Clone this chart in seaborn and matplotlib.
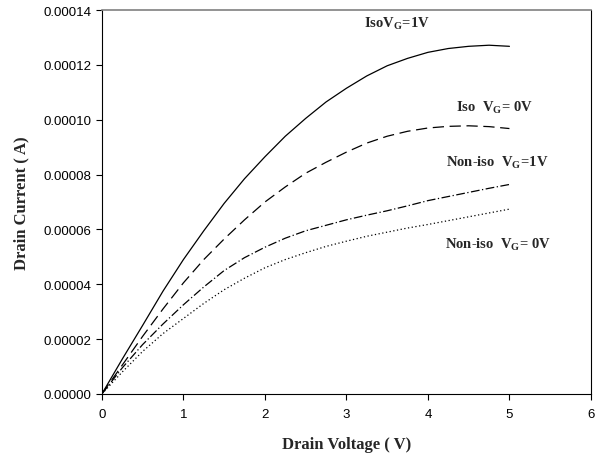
import numpy as np
import pandas as pd
import seaborn as sns
import matplotlib
matplotlib.use('Agg')
import matplotlib.pyplot as plt
from matplotlib.ticker import FormatStrFormatter

# drain voltage (V) and drain current (A)
vd = [0, 0.25, 0.5, 0.75, 1, 1.25, 1.5, 1.75, 2, 2.25, 2.5,
      2.75, 3, 3.25, 3.5, 3.75, 4, 4.25, 4.5, 4.75, 5]
iso_vg1 = [0, 1.27e-5, 2.5e-5, 3.75e-5, 4.9e-5, 5.95e-5, 6.95e-5, 7.85e-5, 8.65e-5, 9.4e-5, 10.05e-5,
           10.65e-5, 11.15e-5, 11.6e-5, 11.97e-5, 12.24e-5, 12.46e-5, 12.6e-5, 12.68e-5, 12.72e-5, 12.68e-5]
iso_vg0 = [0, 1.05e-5, 2.1e-5, 3.1e-5, 4.05e-5, 4.9e-5, 5.65e-5, 6.35e-5, 7.0e-5, 7.55e-5, 8.05e-5,
           8.45e-5, 8.82e-5, 9.15e-5, 9.4e-5, 9.58e-5, 9.7e-5, 9.76e-5, 9.78e-5, 9.75e-5, 9.68e-5]
noniso_vg1 = [0, 0.95e-5, 1.8e-5, 2.55e-5, 3.25e-5, 3.9e-5, 4.5e-5, 4.97e-5, 5.35e-5, 5.68e-5, 5.95e-5,
              6.15e-5, 6.35e-5, 6.52e-5, 6.68e-5, 6.86e-5, 7.05e-5, 7.2e-5, 7.35e-5, 7.5e-5, 7.64e-5]
noniso_vg0 = [0, 0.8e-5, 1.55e-5, 2.2e-5, 2.75e-5, 3.3e-5, 3.8e-5, 4.22e-5, 4.6e-5, 4.9e-5, 5.15e-5,
              5.38e-5, 5.57e-5, 5.75e-5, 5.9e-5, 6.05e-5, 6.18e-5, 6.32e-5, 6.46e-5, 6.6e-5, 6.74e-5]

sns.set_style('white')
plt.rcParams['font.family'] = ['Liberation Sans', 'DejaVu Sans']
plt.rcParams['mathtext.fontset'] = 'custom'
plt.rcParams['mathtext.bf'] = 'Liberation Serif:bold'
plt.rcParams['mathtext.rm'] = 'Liberation Serif:bold'

df = pd.DataFrame({'vd': vd, 'a': iso_vg1, 'b': iso_vg0, 'c': noniso_vg1, 'd': noniso_vg0})

fig = plt.figure(figsize=(6.03, 4.64), dpi=100)
ax = fig.add_axes([0.169, 0.149, 0.811, 0.827])

sns.lineplot(x='vd', y='a', data=df, ax=ax, color='black', lw=0.9)
sns.lineplot(x='vd', y='b', data=df, ax=ax, color='black', lw=0.9,
             linestyle=(0, (9, 4.5)))
sns.lineplot(x='vd', y='c', data=df, ax=ax, color='black', lw=0.9,
             linestyle=(0, (7, 2, 1, 2)))
sns.lineplot(x='vd', y='d', data=df, ax=ax, color='black', lw=0.9,
             linestyle=(0, (1, 2)))

ax.set_xlim(0, 6)
ax.set_ylim(0, 0.00014)
ax.set_xticks(range(0, 7))
ax.set_yticks(np.arange(0, 0.000141, 0.00002))
ax.yaxis.set_major_formatter(FormatStrFormatter('%.5f'))
ax.tick_params(axis='both', direction='out', length=4, width=0.8, labelsize=9.5,
               bottom=True, left=True, colors='black')
ax.tick_params(axis='x', pad=6)

for s in ['left', 'bottom', 'right']:
    ax.spines[s].set_color('black')
    ax.spines[s].set_linewidth(0.8)
ax.spines['top'].set_color('#808080')
ax.spines['top'].set_linewidth(1.2)

lab = dict(family='Liberation Serif', fontweight='bold', fontsize=12)
ax.set_xlabel('Drain Voltage ( V)', labelpad=12, **lab)
ax.set_ylabel('Drain Current ( A)', labelpad=10, **lab)

ann = dict(family='Liberation Serif', fontweight='bold', fontsize=10.5, ha='left', va='baseline')
ax.text(3.215, 0.0001342, r'Iso$\mathbf{V}_{\mathbf{G}}$=1V', **ann)
ax.text(4.34, 0.0001033, r'Iso  $\mathbf{V}_{\mathbf{G}}$= 0V', **ann)
ax.text(4.22, 0.0000835, r'Non-iso  $\mathbf{V}_{\mathbf{G}}$=1V', **ann)
ax.text(4.21, 0.0000535, r'Non-iso  $\mathbf{V}_{\mathbf{G}}$= 0V', **ann)

fig.savefig('out.png', dpi=100)
